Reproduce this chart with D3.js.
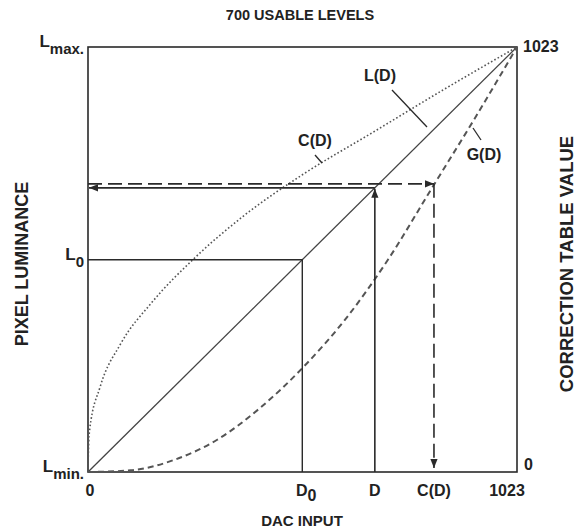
<!DOCTYPE html>
<html><head><meta charset="utf-8">
<script src="https://cdn.jsdelivr.net/npm/d3@7"></script>
<style>
html,body{margin:0;padding:0;background:#fff;}
text{font-family:"Liberation Sans",Arial,sans-serif;font-weight:bold;fill:#222;}
</style></head>
<body><svg id="c" width="584" height="530"></svg>
<script>
// ---- data (DAC units 0..1023) ----
const title = "700 USABLE LEVELS";
const xTitle = "DAC INPUT";
const yTitleLeft = "PIXEL LUMINANCE";
const yTitleRight = "CORRECTION TABLE VALUE";
const linearD = [0, 1023];
const linearL = [0, 1023];
const gammaD = [0, 102, 205, 307, 409, 512, 614, 716, 818, 921, 1023];
const gammaG = [0, 4, 29, 77, 153, 251, 368, 512, 680, 849, 1023];
const corrD = [0, 1, 4, 29, 77, 153, 251, 368, 512, 680, 849, 1023];
const corrC = [0, 51, 102, 205, 307, 409, 512, 614, 716, 818, 921, 1023];
const D0 = 511, L0 = 511, Dsel = 684, LofD = 684, CofD = 825;
const maxVal = 1023;

const svg = d3.select("#c");
const x = d3.scaleLinear().domain([0, maxVal]).range([88, 517]);
const y = d3.scaleLinear().domain([0, maxVal]).range([472, 47]);
const ink = "#2a2a2a";

// markers
const defs = svg.append("defs");
defs.append("marker").attr("id", "arr").attr("viewBox","0 0 10 10")
  .attr("refX",10).attr("refY",5).attr("markerWidth",9).attr("markerHeight",9)
  .attr("markerUnits","userSpaceOnUse").attr("orient","auto")
  .append("path").attr("d","M0,1 L10,5 L0,9 Z").attr("fill",ink);

// frame
svg.append("rect").attr("x", x(0)).attr("y", y(maxVal))
  .attr("width", x(maxVal)-x(0)).attr("height", y(0)-y(maxVal))
  .attr("fill","none").attr("stroke",ink).attr("stroke-width",1.6);

const line = d3.line().x(d=>x(d[0])).y(d=>y(d[1]));
const smooth = d3.line().x(d=>x(d[0])).y(d=>y(d[1])).curve(d3.curveMonotoneX);

// L(D)
svg.append("path").attr("d", line(d3.zip(linearD, linearL)))
  .attr("fill","none").attr("stroke","#444").attr("stroke-width",1.3);
// G(D)
svg.append("path").attr("d", smooth(d3.zip(gammaD, gammaG)))
  .attr("fill","none").attr("stroke","#555").attr("stroke-width",2)
  .attr("stroke-dasharray","6,4");
// C(D)
svg.append("path").attr("d", smooth(d3.zip(corrD, corrC)))
  .attr("fill","none").attr("stroke","#555").attr("stroke-width",1.6)
  .attr("stroke-dasharray","1.6,2.2");

// D0/L0 construction
svg.append("path").attr("d", line([[0,L0],[D0,L0],[D0,0]]))
  .attr("fill","none").attr("stroke",ink).attr("stroke-width",1.4);

// D construction (solid, arrows)
svg.append("line").attr("x1",x(Dsel)).attr("y1",y(0)).attr("x2",x(Dsel)).attr("y2",y(LofD)+1)
  .attr("stroke",ink).attr("stroke-width",1.6).attr("marker-end","url(#arr)");
svg.append("line").attr("x1",x(Dsel)).attr("y1",y(LofD)).attr("x2",x(0)+1).attr("y2",y(LofD))
  .attr("stroke",ink).attr("stroke-width",1.6).attr("marker-end","url(#arr)");
// dashed correction path
const off = -4;
svg.append("line").attr("x1",x(0)).attr("y1",y(LofD)+off).attr("x2",x(CofD)).attr("y2",y(LofD)+off)
  .attr("stroke",ink).attr("stroke-width",1.6).attr("stroke-dasharray","14,6").attr("marker-end","url(#arr)");
svg.append("line").attr("x1",x(CofD)).attr("y1",y(LofD)+off).attr("x2",x(CofD)).attr("y2",y(0)-4)
  .attr("stroke",ink).attr("stroke-width",1.6).attr("stroke-dasharray","14,6").attr("marker-end","url(#arr)");

// curve labels + leaders
function leader(x1,y1,x2,y2){
  svg.append("line").attr("x1",x1).attr("y1",y1).attr("x2",x2).attr("y2",y2)
    .attr("stroke",ink).attr("stroke-width",1.3);
}
svg.append("text").attr("x",380).attr("y",81).attr("text-anchor","middle").attr("font-size",16).text("L(D)");
leader(392,90,427,127);
svg.append("text").attr("x",315).attr("y",146).attr("text-anchor","middle").attr("font-size",16).text("C(D)");
leader(315,155,322,163);
svg.append("text").attr("x",484).attr("y",160).attr("text-anchor","middle").attr("font-size",16).text("G(D)");
leader(473,128,481,140);

// titles
svg.append("text").attr("x",300).attr("y",20).attr("text-anchor","middle").attr("font-size",14.5).text(title);
svg.append("text").attr("x",302).attr("y",526).attr("text-anchor","middle").attr("font-size",15).text(xTitle);
svg.append("text").attr("transform","translate(28,264) rotate(-90)").attr("text-anchor","middle")
  .attr("font-size",18).text(yTitleLeft);
svg.append("text").attr("transform","translate(573,264) rotate(-90)").attr("text-anchor","middle")
  .attr("font-size",18.5).text(yTitleRight);

// bottom tick labels
const bottomTicks = [
  {v:0, t:"0", sub:""}, {v:D0, t:"D", sub:"0"}, {v:Dsel, t:"D", sub:""},
  {v:CofD, t:"C(D)", sub:""}, {v:maxVal, t:"1023", sub:""}];
bottomTicks.forEach(d=>{
  const tx = svg.append("text").attr("x", x(d.v) + (d.sub?4:0) + (d.v===maxVal?-10:0) + (d.v===0?2:0))
    .attr("y",496).attr("text-anchor","middle").attr("font-size",16);
  tx.append("tspan").text(d.t);
  if(d.sub) tx.append("tspan").attr("dy",5).attr("font-size",16).text(d.sub);
});

// left labels
function lLabel(v, sub, dy){
  const t = svg.append("text").attr("x", x(0)-4).attr("y", y(v)+dy).attr("text-anchor","end").attr("font-size",17);
  t.append("tspan").text("L");
  t.append("tspan").attr("dy",7).attr("font-size",15).text(sub);
}
lLabel(maxVal, "max.", 0);
lLabel(L0, "0", 0);
lLabel(0, "min.", 0);

// right labels
svg.append("text").attr("x", x(maxVal)+6).attr("y", y(maxVal)+5).attr("font-size",16).text("1023");
svg.append("text").attr("x", x(maxVal)+7).attr("y", y(0)-2).attr("font-size",16).text("0");
</script></body></html>
